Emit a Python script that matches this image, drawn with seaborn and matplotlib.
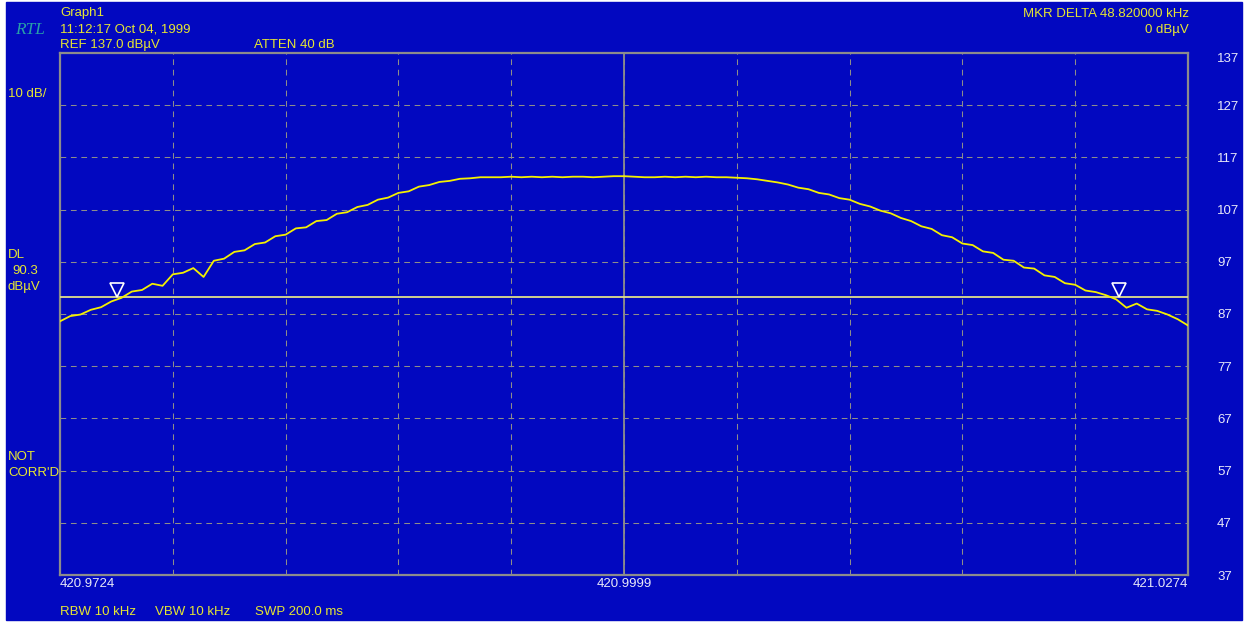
import numpy as np
import matplotlib
matplotlib.use("Agg")
import matplotlib.pyplot as plt
from matplotlib.patches import Rectangle
import seaborn as sns

# ── Instrument settings / data ─────────────────────────────────────────────
F_START = 420.9724          # MHz
F_STOP = 421.0274           # MHz
REF_LEVEL = 137.0           # dBuV
DB_PER_DIV = 10
DISPLAY_LINE = 90.3         # dBuV

freq_labels = ["420.9724", "420.9999", "421.0274"]
level_ticks = [37, 47, 57, 67, 77, 87, 97, 107, 117, 127, 137]

trace_level = [
    85.6, 86.6, 86.9, 87.8, 88.3, 89.4, 90.1, 91.3, 91.6, 92.8,
    92.4, 94.6, 94.9, 95.8, 94.1, 97.2, 97.6, 98.9, 99.2, 100.4,
    100.7, 101.9, 102.2, 103.4, 103.6, 104.8, 105.0, 106.2, 106.5, 107.5,
    107.9, 108.9, 109.3, 110.2, 110.5, 111.4, 111.7, 112.3, 112.5, 112.9,
    113.0, 113.2, 113.2, 113.2, 113.3, 113.2, 113.3, 113.2, 113.3, 113.2,
    113.3, 113.3, 113.2, 113.3, 113.4, 113.4, 113.3, 113.2, 113.2, 113.3,
    113.2, 113.3, 113.2, 113.3, 113.2, 113.2, 113.1, 113.0, 112.8, 112.5,
    112.2, 111.8, 111.2, 110.9, 110.2, 109.9, 109.2, 108.9, 108.1, 107.6,
    106.8, 106.3, 105.4, 104.8, 103.8, 103.3, 102.1, 101.7, 100.5, 100.2,
    99.0, 98.7, 97.4, 97.2, 95.9, 95.7, 94.4, 94.1, 92.9, 92.6,
    91.5, 91.2, 90.6, 89.8, 88.2, 89.0, 87.9, 87.6, 86.9, 86.0,
    84.8,
]
trace_freq = np.linspace(F_START, F_STOP, len(trace_level))

# delta markers (MHz) and the level their symbols sit at
marker_freq = [420.97520, 421.02402]
marker_level = [91.6, 91.6]

# ── Colours ────────────────────────────────────────────────────────────────
BLUE = "#0208c0"
YELLOW = "#e6e632"
TRACE = "#f4f000"
DL_COL = "#e0e08c"
GRID = "#8e8e8a"
FRAME = "#8c8c8c"
TICKTXT = "#e8e8f8"

sns.set_style("ticks")
plt.rcParams["font.family"] = ["Liberation Sans", "DejaVu Sans"]

fig = plt.figure(figsize=(12.44, 6.22), dpi=100, facecolor="white")
fig.patches.append(Rectangle((6 / 1244, 2 / 622), 1236 / 1244, 618 / 622,
                             transform=fig.transFigure, color=BLUE,
                             zorder=-10))

ax = fig.add_axes([60 / 1244, 1 - 575 / 622, 1128 / 1244, 522 / 622])
ax.set_facecolor(BLUE)

# graticule
xgrid = np.linspace(F_START, F_STOP, 11)
ax.set_xlim(F_START, F_STOP)
ax.set_ylim(REF_LEVEL - 10 * DB_PER_DIV, REF_LEVEL)
ax.set_xticks(xgrid)
ax.set_xticklabels([freq_labels[0], "", "", "", "", freq_labels[1],
                    "", "", "", "", freq_labels[2]])
ax.set_yticks(level_ticks)
ax.grid(True, color=GRID, linestyle=(0, (5.5, 4.5)), linewidth=0.75)
ax.set_axisbelow(True)
ax.axvline(xgrid[5], color=FRAME, linewidth=1.3, zorder=1)

for s in ax.spines.values():
    s.set_color(FRAME)
    s.set_linewidth(1.6)

ax.tick_params(axis="both", length=0, colors=TICKTXT, labelsize=9.5)
ax.tick_params(axis="x", pad=2)
ax.yaxis.tick_right()
ax.tick_params(axis="y", pad=21)
xl = ax.get_xticklabels()
xl[0].set_horizontalalignment("left")
xl[-1].set_horizontalalignment("right")
ax.get_yticklabels()[-1].set_verticalalignment("top")

# display line and trace
ax.axhline(DISPLAY_LINE, color=DL_COL, linewidth=1.3, zorder=3)
sns.lineplot(x=trace_freq, y=trace_level, ax=ax, color=TRACE,
             linewidth=1.3, zorder=4)
ax.plot(marker_freq, marker_level, linestyle="none", marker="v",
        markersize=10, markerfacecolor=BLUE, markeredgecolor="white",
        markeredgewidth=1.2, zorder=5)
ax.set_xlabel("")
ax.set_ylabel("")

# ── Annotation text around the screen ─────────────────────────────────────
def px(x, y, s, ha="left", color=YELLOW, **kw):
    fig.text(x / 1244, 1 - y / 622, s, ha=ha, va="center", color=color,
             fontsize=kw.pop("fontsize", 9.5), **kw)

px(15, 30, "RTL", color="#28a0a8", fontsize=12.5, style="italic",
   family=["Liberation Serif", "DejaVu Serif"])
px(60, 13, "Graph1")
px(60, 29, "11:12:17 Oct 04, 1999")
px(60, 45, "REF 137.0 dB\u00b5V")
px(254, 45, "ATTEN 40 dB")
px(1189, 14, "MKR DELTA 48.820000 kHz", ha="right")
px(1189, 30, "0 dB\u00b5V", ha="right")
px(8, 94, "10 dB/")
px(8, 255, "DL")
px(12, 271, "90.3")
px(8, 287, "dB\u00b5V")
px(8, 457, "NOT")
px(8, 473, "CORR'D")
px(60, 612, "RBW 10 kHz")
px(155, 612, "VBW 10 kHz")
px(255, 612, "SWP 200.0 ms")

fig.savefig("out.png", dpi=100, facecolor="white")
